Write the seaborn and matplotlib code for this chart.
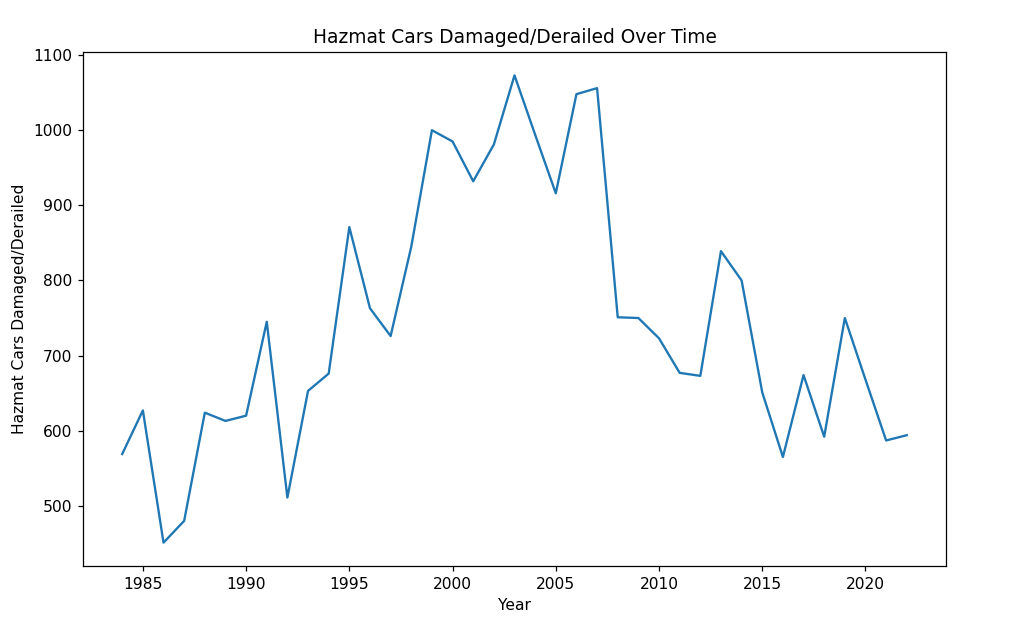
import matplotlib
matplotlib.use("Agg")
import matplotlib.pyplot as plt
import seaborn as sns
import pandas as pd

years = list(range(1984, 2023))
cars = [569, 627, 451, 480, 624, 613, 620, 745, 511, 653, 676,
        871, 763, 726, 845, 1000, 985, 932, 981, 1073, 994, 916, 1048, 1056,
        751, 750, 723, 677, 673, 839, 800, 651, 565, 674, 592, 750, 668, 587, 594]

df = pd.DataFrame({"Year": years, "Hazmat Cars Damaged/Derailed": cars})

DPI = 112
fig = plt.figure(figsize=(1024 / DPI, 620 / DPI), dpi=DPI)
ax = fig.add_axes([83/1024, 1 - 566/620, (946 - 83)/1024, (566 - 52)/620])
sns.lineplot(data=df, x="Year", y="Hazmat Cars Damaged/Derailed", ax=ax, color="#1f77b4")
ax.set_title("Hazmat Cars Damaged/Derailed Over Time", fontsize=12)
ax.set_xticks([1985, 1990, 1995, 2000, 2005, 2010, 2015, 2020])
fig.savefig("out.png", dpi=DPI)
